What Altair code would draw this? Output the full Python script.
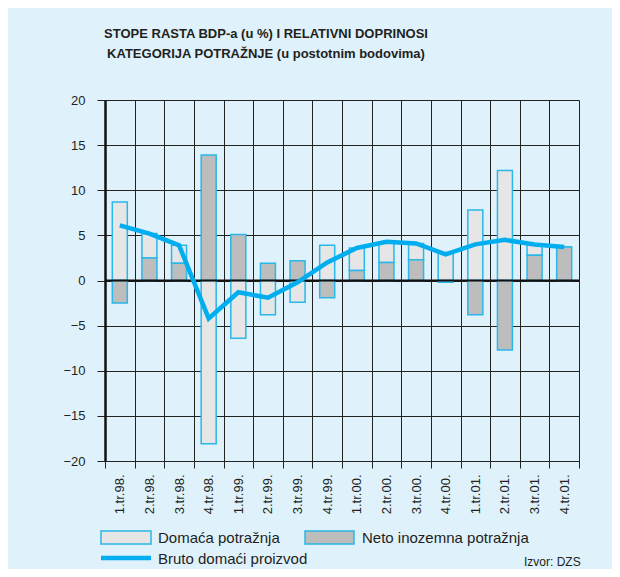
import altair as alt
import pandas as pd

quarters = ["1.tr.98.", "2.tr.98.", "3.tr.98.", "4.tr.98.",
            "1.tr.99.", "2.tr.99.", "3.tr.99.", "4.tr.99.",
            "1.tr.00.", "2.tr.00.", "3.tr.00.", "4.tr.00.",
            "1.tr.01.", "2.tr.01.", "3.tr.01.", "4.tr.01."]
domaca = [8.7, 2.7, 2.0, -18.1, -6.4, -3.8, -2.4, 3.9, 2.5, 2.3, 1.8, 3.1, 7.8, 12.2, 1.2, 0.0]
neto = [-2.5, 2.5, 1.9, 13.9, 5.1, 1.9, 2.2, -1.9, 1.1, 2.0, 2.3, -0.2, -3.8, -7.7, 2.8, 3.7]
bdp = [6.1, 5.2, 3.9, -4.2, -1.3, -1.9, -0.2, 2.0, 3.6, 4.3, 4.1, 2.9, 4.0, 4.5, 4.0, 3.7]
series_names = ["Domaća potražnja", "Neto inozemna potražnja"]
y_ticks = [-20, -15, -10, -5, 0, 5, 10, 15, 20]

bars = pd.DataFrame({
    "q": quarters * 2,
    "series": [series_names[0]] * len(quarters) + [series_names[1]] * len(quarters),
    "value": domaca + neto,
    "ord": [1] * len(quarters) + [0] * len(quarters),
})
line_df = pd.DataFrame({"q": quarters, "bdp": bdp})
zero_df = pd.DataFrame({"v": [0]})
dummy = pd.DataFrame({"k": [0]})

FONT = "Liberation Sans"
TXT = "#231f20"
BLUE = "#00aeef"
EDGE = "#2ab7ea"

x_enc = alt.X("q:N", sort=quarters,
              scale=alt.Scale(paddingInner=0, paddingOuter=0),
              axis=alt.Axis(title=None, labelAngle=-90, tickBand="extent",
                            tickSize=7, tickColor="#222", grid=True, gridColor="#222",
                            gridWidth=1, domainColor="#222", labelPadding=6,
                            labelFont=FONT, labelFontSize=13, labelColor=TXT))
y_scale = alt.Scale(domain=[-20, 20], nice=False, zero=False)

bar_layer = alt.Chart(bars).mark_bar(size=15, stroke=EDGE, strokeWidth=1.5).encode(
    x=x_enc,
    y=alt.Y("value:Q", stack="zero", scale=y_scale,
            axis=alt.Axis(title=None, values=y_ticks, grid=True, gridColor="#222",
                          gridWidth=1, domainColor="#111", domainWidth=2.5,
                          tickSize=8, tickColor="#222", labelPadding=12,
                          labelFont=FONT, labelFontSize=13, labelColor=TXT)),
    color=alt.Color("series:N", scale=alt.Scale(domain=series_names,
                                                range=["#e6e6e6", "#bdbdbd"]), legend=None),
    order=alt.Order("ord:Q"),
)

zero_layer = alt.Chart(zero_df).mark_rule(color="#111", strokeWidth=2.2).encode(
    y=alt.Y("v:Q", scale=y_scale))

line_layer = alt.Chart(line_df).mark_line(color=BLUE, strokeWidth=4.5, strokeCap="butt").encode(
    x=alt.X("q:N", sort=quarters), y=alt.Y("bdp:Q", scale=y_scale))

def txt(text, x, y, size=15, weight="normal", align="left", font=FONT):
    return alt.Chart(dummy).mark_text(text=text, align=align, baseline="alphabetic",
                                       fontSize=size, fontWeight=weight, font=font,
                                       color=TXT).encode(x=alt.value(x), y=alt.value(y))

title1 = txt("STOPE RASTA BDP-a (u %) I RELATIVNI DOPRINOSI", 161, -62, size=13,
             weight="bold", align="center")
title2 = txt("KATEGORIJA POTRAŽNJE (u postotnim bodovima)", 161, -42, size=13,
             weight="bold", align="center")

leg_r1 = alt.Chart(dummy).mark_rect(fill="#e6e6e6", stroke=EDGE, strokeWidth=1.5).encode(
    x=alt.value(-4), x2=alt.value(46), y=alt.value(431), y2=alt.value(444))
leg_r2 = alt.Chart(dummy).mark_rect(fill="#bdbdbd", stroke=EDGE, strokeWidth=1.5).encode(
    x=alt.value(200), x2=alt.value(249), y=alt.value(431), y2=alt.value(444))
leg_l = alt.Chart(dummy).mark_rule(color=BLUE, strokeWidth=4.5).encode(
    x=alt.value(-4), x2=alt.value(46), y=alt.value(458))
leg_t1 = txt(series_names[0], 53, 443)
leg_t2 = txt(series_names[1], 257, 443)
leg_t3 = txt("Bruto domaći proizvod", 53, 464)
src = txt("Izvor: DZS", 419, 466, size=12)

chart = alt.layer(bar_layer, zero_layer, line_layer, title1, title2,
                  leg_r1, leg_r2, leg_l, leg_t1, leg_t2, leg_t3, src).properties(
    width=474, height=361,
    autosize=alt.AutoSizeParams(type="none"),
    padding={"left": 97, "top": 92, "right": 33, "bottom": 108},
    background="#dff1fb",
).configure_view(strokeWidth=0)

chart.save("out.html", embed_options={"renderer": "svg", "actions": False})
